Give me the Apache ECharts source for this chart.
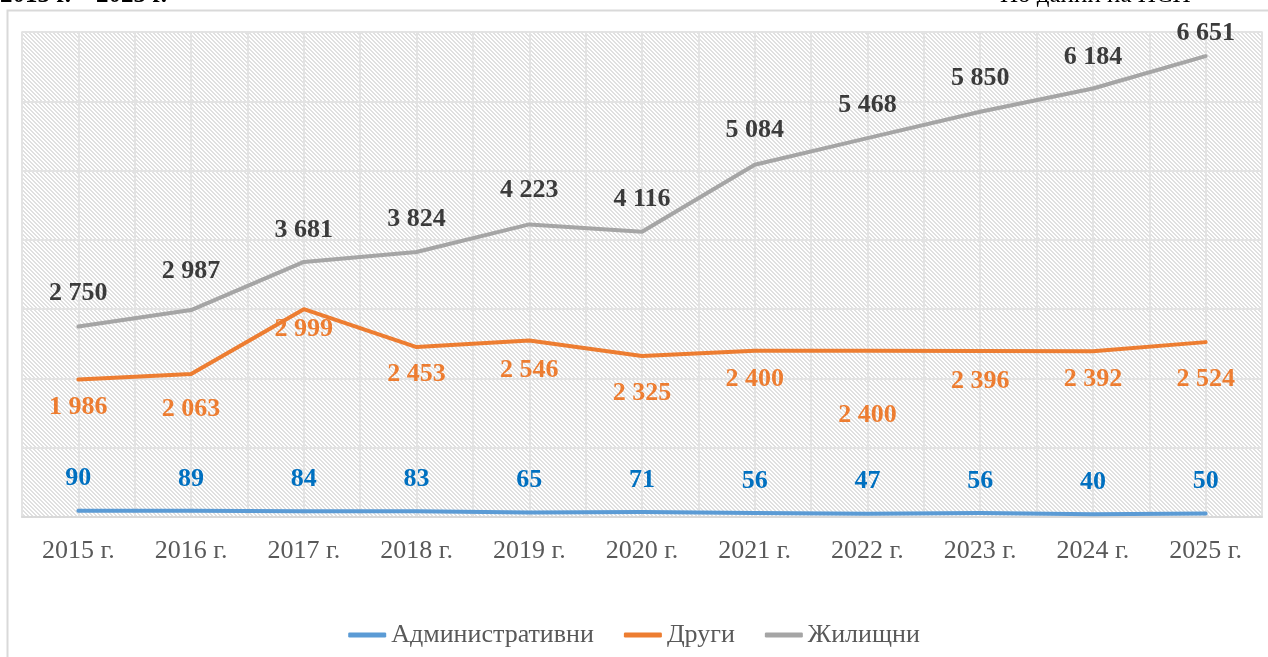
<!DOCTYPE html>
<html>
<head>
<meta charset="utf-8">
<script src="https://cdn.jsdelivr.net/npm/echarts@6/dist/echarts.min.js"></script>
<style>
  html, body { margin: 0; padding: 0; background: #fff; }
  #chart { width: 1268px; height: 657px; }
</style>
</head>
<body>
<div id="chart"></div>
<script>
const years = ['2015 г.', '2016 г.', '2017 г.', '2018 г.', '2019 г.', '2020 г.', '2021 г.', '2022 г.', '2023 г.', '2024 г.', '2025 г.'];
const admin = [90, 89, 84, 83, 65, 71, 56, 47, 56, 40, 50];
const other = [1986, 2063, 2999, 2453, 2546, 2325, 2400, 2400, 2396, 2392, 2524];
const housing = [2750, 2987, 3681, 3824, 4223, 4116, 5084, 5468, 5850, 6184, 6651];

// label shifts (px) relative to each point
const adminShift = [-32, -32, -32, -32, -32, -32, -32, -32, -32, -32, -32];
const otherShift = [28, 35, 20, 27, 30, 37, 29, 65, 30, 28, 37];
const housingShift = [-33, -39, -32, -33, -34, -33, -34, -33, -33, -31, -23];

// half-category slots for the vertical gridlines
const halfSlots = [];
years.forEach(y => { halfSlots.push(y + 'a'); halfSlots.push(y + 'b'); });

// hatched plot background
function hatch() {
  const n = 4;
  const c = document.createElement('canvas');
  c.width = n; c.height = n;
  const ctx = c.getContext('2d');
  ctx.fillStyle = '#ffffff';
  ctx.fillRect(0, 0, n, n);
  ctx.fillStyle = '#e0e0e0';
  for (let y = 0; y < n; y++) {
    for (let x = 0; x < n; x++) {
      const k = ((x - y) % n + n) % n;
      if (k === 0 || k === 1) ctx.fillRect(x, y, 1, 1);
    }
  }
  return c;
}

function fmt(v) {
  return String(v).replace(/\B(?=(\d{3})+(?!\d))/g, ' ');
}

function points(values, shifts) {
  return values.map((v, i) => ({
    value: v,
    label: { offset: [0, shifts[i]] }
  }));
}

const font = '"Liberation Serif", "Times New Roman", serif';

function lineSeries(name, values, shifts, color, labelColor) {
  return {
    name: name,
    type: 'line',
    xAxisIndex: 0,
    data: points(values, shifts),
    symbol: 'circle',
    symbolSize: 0,
    lineStyle: { color: color, width: 4, cap: 'round', join: 'round' },
    itemStyle: { color: color },
    label: {
      show: true,
      position: 'inside',
      color: labelColor,
      fontFamily: font,
      fontWeight: 'bold',
      fontSize: 26,
      formatter: p => fmt(p.value)
    },
    emphasis: { disabled: true },
    animation: false
  };
}

const chart = echarts.init(document.getElementById('chart'));
chart.setOption({
  backgroundColor: '#ffffff',
  graphic: [
    { type: 'rect', shape: { x: 7.5, y: 10.5, width: 1270, height: 660 },
      style: { fill: null, stroke: '#d9d9d9', lineWidth: 2 }, z: -10 },
    { type: 'text', left: 0, top: -17,
      style: { text: '2015 г. – 2025 г.', font: 'bold 25px ' + font, fill: '#000' } },
    { type: 'text', left: 1000, top: -17,
      style: { text: 'По данни на НСИ', font: '25px ' + font, fill: '#000' } }
  ],
  grid: {
    left: 22, right: 6, top: 32, bottom: 140,
    show: true,
    backgroundColor: { image: hatch(), repeat: 'repeat' },
    borderColor: '#e3e3e3',
    borderWidth: 1.5
  },
  legend: {
    bottom: 4,
    left: 'center',
    icon: 'roundRect',
    itemWidth: 38,
    itemHeight: 5,
    itemGap: 30,
    textStyle: { fontFamily: font, fontSize: 26, color: '#595959' },
    data: ['Административни', 'Други', 'Жилищни']
  },
  xAxis: [{
    type: 'category',
    data: years,
    boundaryGap: true,
    axisLine: { lineStyle: { color: '#d9d9d9', width: 2 } },
    axisTick: { show: false },
    splitLine: { show: false },
    axisLabel: { fontFamily: font, fontSize: 26, color: '#595959', margin: 21 }
  }, {
    type: 'category',
    data: halfSlots,
    boundaryGap: true,
    position: 'bottom',
    axisLine: { show: false },
    axisTick: { show: false },
    axisLabel: { show: false },
    splitLine: { show: true, interval: 0, lineStyle: { color: '#e3e3e3', width: 2 } }
  }],
  yAxis: {
    type: 'value',
    min: 0, max: 7000, interval: 1000,
    axisLabel: { show: false },
    axisLine: { show: false },
    axisTick: { show: false },
    splitLine: { lineStyle: { color: '#e3e3e3', width: 2 } }
  },
  series: [
    lineSeries('Административни', admin, adminShift, '#5b9bd5', '#0070c0'),
    lineSeries('Други', other, otherShift, '#ed7d31', '#ed7d31'),
    lineSeries('Жилищни', housing, housingShift, '#a5a5a5', '#3b3b3b')
  ]
});
</script>
</body>
</html>
